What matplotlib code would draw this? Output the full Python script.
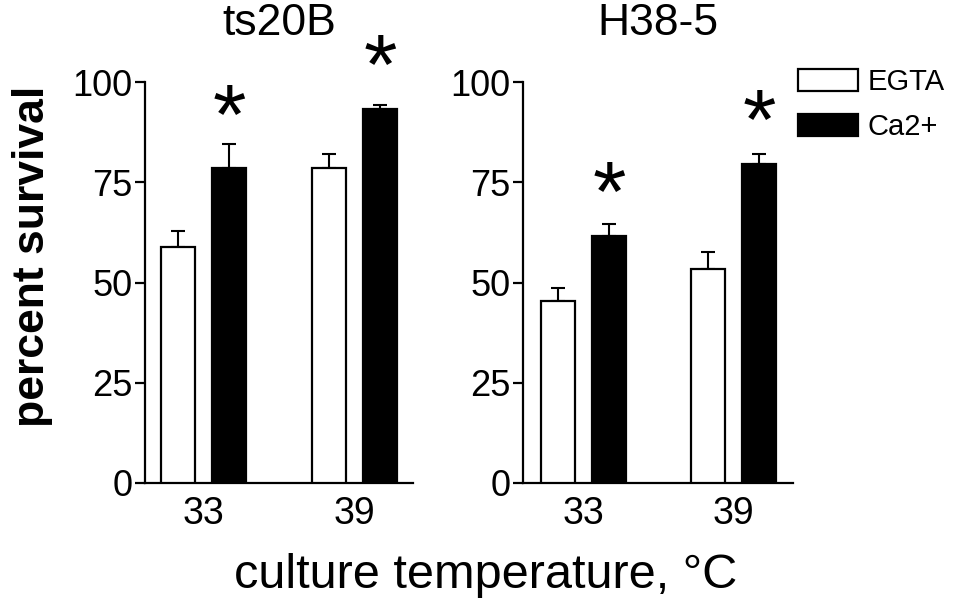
"""
Survival of ts20B and H38-5 cells at two culture temperatures,
EGTA versus Ca2+ medium.
"""

import numpy as np
import matplotlib
matplotlib.use("Agg")
import matplotlib.pyplot as plt


# ---------------------------------------------------------------------
# Data
# ---------------------------------------------------------------------

TEMPERATURES = ["33", "39"]
CELL_LINES = ["ts20B", "H38-5"]
SERIES = ["EGTA", "Ca2+"]

EGTA_MEAN = {"ts20B": [58.9, 78.5], "H38-5": [45.4, 53.4]}
EGTA_ERR = {"ts20B": [3.9, 3.5], "H38-5": [3.2, 4.2]}
CA_MEAN = {"ts20B": [78.5, 93.3], "H38-5": [61.6, 79.6]}
CA_ERR = {"ts20B": [6.0, 1.0], "H38-5": [3.0, 2.4]}

# asterisk heights (significance marks above Ca2+ bars)
STAR_Y = {"ts20B": [93.8, 106.2], "H38-5": [74.6, 92.5]}

YTICKS = [0, 25, 50, 75, 100]


# ---------------------------------------------------------------------
# Plot
# ---------------------------------------------------------------------

plt.rcParams["font.family"] = ["Liberation Sans", "DejaVu Sans"]

W, H = 960, 606
fig = plt.figure(figsize=(W / 100, H / 100), dpi=100)

# axes frame in pixels: left, right, xlim
ax_px = {"ts20B": (145, 413, -0.39, 1.39), "H38-5": (523, 793, -0.405, 1.395)}
top_px, bot_px = 82, 483

BAR_W = 0.226
OFFSET = 0.17
STAR_FS = 62
x = np.arange(len(TEMPERATURES))

axes = []
for name in CELL_LINES:
    x0, x1, xl0, xl1 = ax_px[name]
    ax = fig.add_axes([x0 / W, 1 - bot_px / H, (x1 - x0) / W, (bot_px - top_px) / H])
    axes.append(ax)

    ax.bar(x - OFFSET, EGTA_MEAN[name], BAR_W, color="white",
           edgecolor="black", linewidth=1.6, zorder=3, label=SERIES[0])
    ax.bar(x + OFFSET, CA_MEAN[name], BAR_W, color="black",
           edgecolor="black", linewidth=1.6, zorder=3, label=SERIES[1])

    for xs, m, e in [(x - OFFSET, EGTA_MEAN[name], EGTA_ERR[name]),
                     (x + OFFSET, CA_MEAN[name], CA_ERR[name])]:
        ax.errorbar(xs, m, yerr=[np.zeros(len(e)), e], fmt="none",
                    ecolor="black", elinewidth=1.5, capsize=4.7,
                    capthick=1.5, zorder=2)

    # glyph sits above the text box centre, so shift it down a bit
    for xi, sy in zip(x + OFFSET, STAR_Y[name]):
        ax.annotate("*", (xi, sy), xytext=(0, -0.17 * STAR_FS),
                    textcoords="offset points", ha="center", va="center",
                    fontsize=STAR_FS, annotation_clip=False)

    ax.set_xlim(xl0, xl1)
    ax.set_ylim(0, 100)
    ax.set_yticks(YTICKS)
    ax.set_xticks(x)
    ax.set_xticklabels(TEMPERATURES)
    ax.tick_params(axis="y", length=7, width=1.6, labelsize=26, pad=2)
    ax.tick_params(axis="x", length=0, labelsize=27, pad=9)
    for s in ["top", "right"]:
        ax.spines[s].set_visible(False)
    for s in ["left", "bottom"]:
        ax.spines[s].set_linewidth(1.6)

    ax.text(0.5, 1.0 + (top_px - 35) / (bot_px - top_px), name,
            transform=ax.transAxes, ha="center", va="baseline", fontsize=32)

fig.text(33 / W, 1 - 256 / H, "percent survival", rotation=90,
         ha="center", va="center", fontsize=32, fontweight="bold")
fig.text(486 / W, 1 - 575 / H, "culture temperature, °C",
         ha="center", va="center", fontsize=35)

axes[1].legend(loc="upper left", bbox_to_anchor=(798 / W, 1 - 68 / H),
               bbox_transform=fig.transFigure, frameon=False,
               borderaxespad=0, borderpad=0, handlelength=2.05,
               handleheight=0.79, handletextpad=0.34, labelspacing=0.58,
               fontsize=21)

fig.savefig("out.png", dpi=100)
